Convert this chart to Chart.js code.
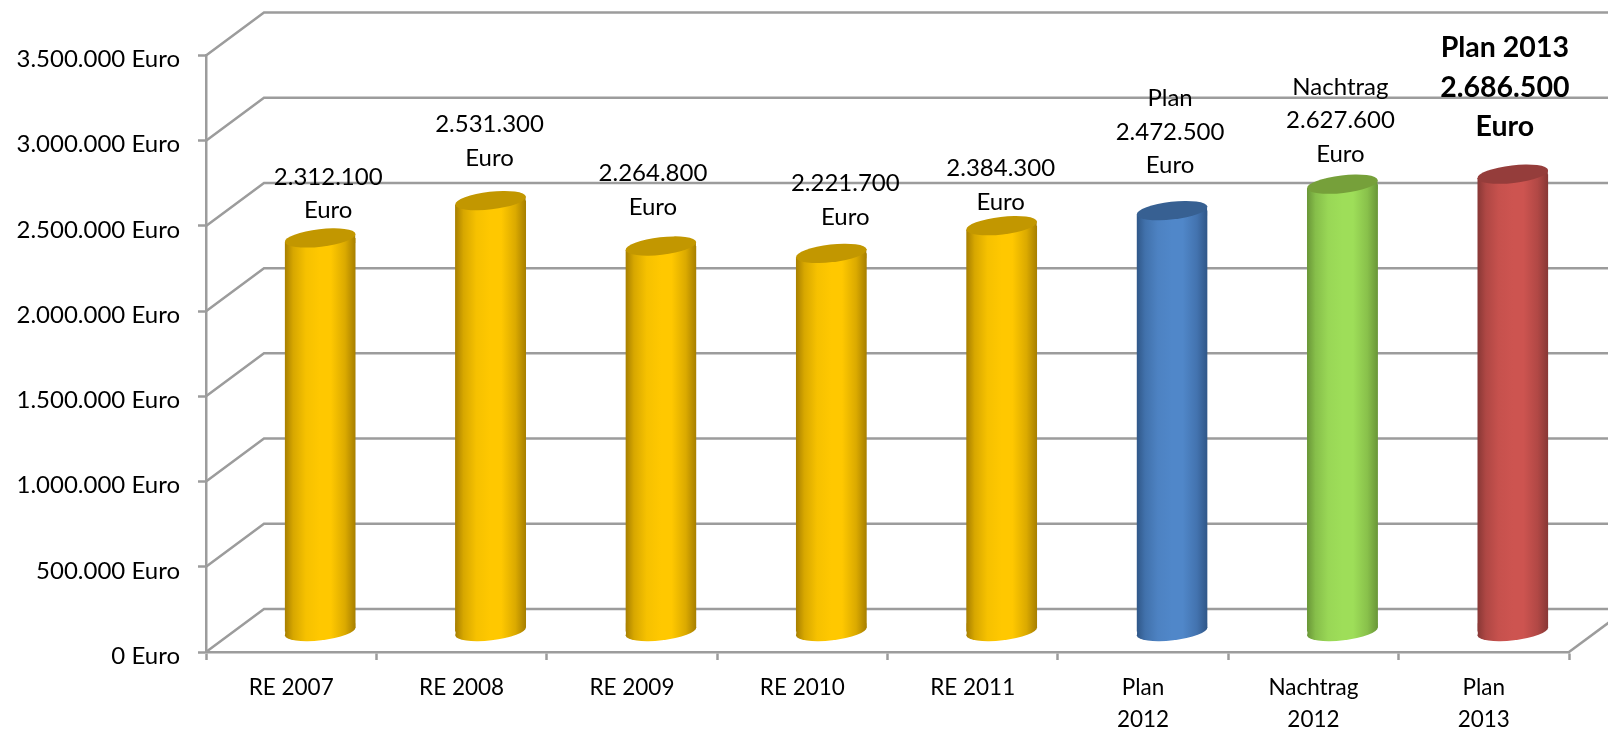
<!DOCTYPE html>
<html>
<head>
<meta charset="utf-8">
<title>Haushalt</title>
<script src="https://cdn.jsdelivr.net/npm/chart.js@4"></script>
<style>
  html, body { margin: 0; padding: 0; background: #fff; overflow: hidden; }
  canvas { display: block; }
</style>
</head>
<body>
<canvas id="budget-chart" width="1608" height="731"></canvas>
<script>
// Chart data
const categories = ['RE 2007', 'RE 2008', 'RE 2009', 'RE 2010', 'RE 2011', ['Plan', '2012'], ['Nachtrag', '2012'], ['Plan', '2013']];
const amounts = [2312100, 2531300, 2264800, 2221700, 2384300, 2472500, 2627600, 2686500];
const labelPrefixes = ['', '', '', '', '', 'Plan', 'Nachtrag', 'Plan 2013'];

// Colours per bar: edge, centre, cap
const yellow = ['#a67e00', '#ffc800', '#c29700'];
const blue = ['#2f5687', '#5087c9', '#376092'];
const green = ['#699637', '#9ede59', '#76a03a'];
const red = ['#873735', '#cd5450', '#953d3b'];
const barColors = [yellow, yellow, yellow, yellow, yellow, blue, green, red];

// Where each value label sits relative to the top of its bar
const labelOffsets = [[37, -81], [28, -96], [21, -92.5], [43, -90], [28, -77], [27, -132], [27, -117], [21, -146]];

// Shading across a cylinder: position, share of the centre colour
const shadeStops = [[0, 0], [0.12, 0.55], [0.3, 0.9], [0.5, 1], [0.65, 1], [0.85, 0.6], [1, 0]];

const lineColor = '#9c9c9c';
const depthX = 58;   // back wall offset
const depthY = 43;
const barDepthX = 29; // cylinders stand in the middle of the floor
const barDepthY = 20;
const capTilt = -0.115;
const capRy = 8.8;
const barShare = 0.417;

function euro(value) {
  return String(value).replace(/\B(?=(\d{3})+$)/g, '.');
}

function mix(edge, centre, share) {
  const part = (hex, at) => parseInt(hex.substr(at, 2), 16);
  const chan = at => Math.round(part(edge, at) + (part(centre, at) - part(edge, at)) * share);
  return `rgb(${chan(1)},${chan(3)},${chan(5)})`;
}

function barGradient(ctx, x, width, colors) {
  const g = ctx.createLinearGradient(x - width / 2, 0, x + width / 2, 0);
  shadeStops.forEach(([at, share]) => g.addColorStop(at, mix(colors[0], colors[1], share)));
  return g;
}

function ellipse(ctx, x, y, rx) {
  ctx.beginPath();
  ctx.ellipse(x, y, rx, capRy, capTilt, 0, Math.PI * 2);
  ctx.fill();
}

// Fills the little wedge between a flat bar end and the tilted ellipse
function wedge(ctx, x, y, rx, toY) {
  const rise = rx * Math.sin(-capTilt);
  const half = rx - 0.5;
  ctx.beginPath();
  ctx.moveTo(x - half, y + rise);
  ctx.lineTo(x + half, y - rise);
  ctx.lineTo(x + half, toY);
  ctx.lineTo(x - half, toY);
  ctx.closePath();
  ctx.fill();
}

// Draws the 3D walls and the round ends of the bars
const cylinderPlugin = {
  id: 'cylinder',
  beforeDraw(chart) {
    // axis labels sit a little under their tick marks
    chart.scales.y.getLabelItems().forEach(item => { item.options.translation[1] += 4; });
  },
  beforeDatasetsDraw(chart) {
    const { ctx, scales: { y } } = chart;
    const { left, right, bottom } = chart.chartArea;
    ctx.save();
    ctx.strokeStyle = lineColor;
    ctx.lineWidth = 2.5;
    y.ticks.forEach(tick => {
      const py = y.getPixelForValue(tick.value);
      ctx.beginPath();
      ctx.moveTo(left, py);
      ctx.lineTo(left + depthX, py - depthY);
      ctx.lineTo(chart.width, py - depthY);
      ctx.stroke();
    });
    ctx.beginPath();
    ctx.moveTo(right, bottom);
    ctx.lineTo(right + depthX, bottom - depthY);
    ctx.stroke();
    ctx.restore();

    ctx.save();
    ctx.translate(barDepthX, -barDepthY);
    const bars = chart.getDatasetMeta(0).data;
    bars.forEach((bar, i) => {
      const rx = bar.width / 2;
      const rise = rx * Math.sin(-capTilt);
      ctx.fillStyle = barGradient(ctx, bar.x, bar.width, barColors[i]);
      ellipse(ctx, bar.x, bar.base, rx);
      wedge(ctx, bar.x, bar.base, rx, bar.base - 2 * rise);
    });

    // trim the square bar corners to the tilt of the ellipses
    ctx.save();
    ctx.beginPath();
    bars.forEach(bar => {
      const rx = bar.width / 2;
      const rise = rx * Math.sin(-capTilt);
      ctx.moveTo(bar.x - rx, bar.y + rise);
      ctx.lineTo(bar.x + rx, bar.y - rise);
      ctx.lineTo(bar.x + rx, bar.base - rise);
      ctx.lineTo(bar.x - rx, bar.base + rise);
      ctx.closePath();
    });
    ctx.clip();
  },
  afterDatasetsDraw(chart) {
    const { ctx } = chart;
    ctx.restore();
    chart.getDatasetMeta(0).data.forEach((bar, i) => {
      const rx = bar.width / 2;
      ctx.fillStyle = barGradient(ctx, bar.x, bar.width, barColors[i]);
      wedge(ctx, bar.x, bar.y, rx, bar.y + 5);
      ctx.fillStyle = barColors[i][2];
      ellipse(ctx, bar.x, bar.y, rx);
    });
    ctx.restore();

    // Value labels
    ctx.save();
    ctx.fillStyle = '#000';
    ctx.textAlign = 'center';
    ctx.textBaseline = 'middle';
    chart.getDatasetMeta(0).data.forEach((bar, i) => {
      const lines = [euro(amounts[i]), 'Euro'];
      if (labelPrefixes[i]) lines.unshift(labelPrefixes[i]);
      const isLast = i === amounts.length - 1;
      ctx.font = (isLast ? 'bold 28.5px' : '24px') + ' Lato';
      const step = isLast ? 39.5 : 33.5;
      lines.forEach((line, n) => {
        ctx.fillText(line, bar.x + labelOffsets[i][0], bar.y + labelOffsets[i][1] + n * step);
      });
    });
    ctx.restore();
  }
};

new Chart(document.getElementById('budget-chart'), {
  type: 'bar',
  data: {
    labels: categories,
    datasets: [{
      data: amounts,
      clip: false,
      barPercentage: barShare,
      categoryPercentage: 1,
      borderWidth: 0,
      backgroundColor: c => {
        const { chart, dataIndex } = c;
        if (!chart.chartArea) return barColors[dataIndex][1];
        const x = chart.scales.x.getPixelForValue(dataIndex);
        const width = barShare * (chart.chartArea.width / categories.length);
        return barGradient(chart.ctx, x, width, barColors[dataIndex]);
      }
    }]
  },
  options: {
    responsive: false,
    animation: false,
    layout: { padding: { top: 55.5, right: 39, left: 0, bottom: 0 } },
    plugins: { legend: { display: false }, tooltip: { enabled: false } },
    scales: {
      x: {
        afterFit: s => { s.height = 79; },
        border: { color: lineColor, width: 2.5 },
        grid: { drawOnChartArea: false, drawTicks: true, tickLength: 8, tickWidth: 2.5, tickColor: lineColor },
        ticks: { color: '#000', font: { family: 'Lato', size: 22.5, lineHeight: 1.45 }, padding: 11, maxRotation: 0, autoSkip: false }
      },
      y: {
        min: 0,
        max: 3500000,
        afterFit: s => { s.width = 206; },
        border: { color: lineColor, width: 2.5 },
        grid: { drawOnChartArea: false, drawTicks: true, tickLength: 8, tickWidth: 2.5, tickColor: lineColor },
        ticks: {
          stepSize: 500000,
          color: '#000',
          font: { family: 'Lato', size: 24 },
          padding: 18,
          callback: v => euro(v) + ' Euro'
        }
      }
    }
  },
  plugins: [cylinderPlugin]
});
</script>
</body>
</html>
